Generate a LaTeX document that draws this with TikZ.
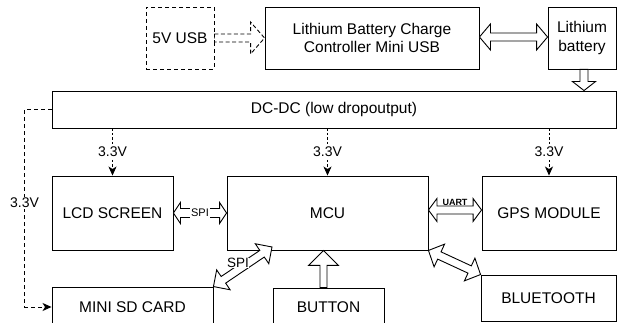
\documentclass[tikz,border=0pt]{standalone}
\usepackage{fontspec}
\setmainfont{Liberation Sans}
\usetikzlibrary{calc,arrows.meta}
% double-headed hollow arrow: [opts]{shaft half width}{head half width}{head length}{A}{B}
\newcommand\dflex[6][]{%
 \draw[flex,#1] (#5) -- ($(#5)!#4!(#6)!#3!90:(#6)$) -- ($(#5)!#4!(#6)!#2!90:(#6)$)
  -- ($(#6)!#4!(#5)!#2!-90:(#5)$) -- ($(#6)!#4!(#5)!#3!-90:(#5)$) -- (#6)
  -- ($(#6)!#4!(#5)!#3!90:(#5)$) -- ($(#6)!#4!(#5)!#2!90:(#5)$)
  -- ($(#5)!#4!(#6)!#2!-90:(#6)$) -- ($(#5)!#4!(#6)!#3!-90:(#6)$) -- cycle;}
% single-headed hollow arrow (head at B)
\newcommand\sflex[6][]{%
 \draw[flex,#1] ($(#5)!#2!90:(#6)$) -- ($(#6)!#4!(#5)!#2!-90:(#5)$)
  -- ($(#6)!#4!(#5)!#3!-90:(#5)$) -- (#6) -- ($(#6)!#4!(#5)!#3!90:(#5)$)
  -- ($(#6)!#4!(#5)!#2!90:(#5)$) -- ($(#5)!#2!-90:(#6)$) -- cycle;}
\begin{document}
\begin{tikzpicture}[x=1pt,y=-1pt,
  box/.style={draw=black, line width=0.9pt, inner sep=0pt, align=center,
    font=\fontsize{15.5}{18.5}\selectfont},
  flex/.style={draw=black, fill=white, line width=0.9pt, line join=miter},
  vdash/.style={draw=black, line width=0.8pt, dash pattern=on 2.5pt off 2pt,
    -{Stealth[length=9pt,width=8pt,inset=2.5pt]}},
  ldash/.style={draw=black, line width=0.9pt, dash pattern=on 4pt off 3pt,
    -{Stealth[length=9pt,width=8pt,inset=2.5pt]}},
  lbl/.style={fill=white, inner sep=1pt, font=\fontsize{14}{16}\selectfont},
  spilbl/.style={fill=white, inner sep=1pt, font=\fontsize{11}{13}\selectfont},
]
\useasboundingbox (0,0) rectangle (622,323);
\clip (0,0) rectangle (622,323);
% boxes
\node[box, dashed, dash pattern=on 4pt off 3pt, minimum width=68pt, minimum height=62pt] (usb) at (180,38) {5V USB};
\node[box, minimum width=214pt, minimum height=62pt] (ctrl) at (372,38) {Lithium Battery Charge\\Controller Mini USB};
\node[box, minimum width=68pt, minimum height=62pt] (bat) at (582,38) {Lithium\\battery};
\node[box, minimum width=564pt, minimum height=37pt] (dcdc) at (334,109.5) {DC-DC (low dropoutput)};
\node[box, minimum width=121pt, minimum height=74pt] (lcd) at (112.5,213) {LCD SCREEN};
\node[box, minimum width=201pt, minimum height=74pt] (mcu) at (327.5,213) {MCU};
\node[box, minimum width=134pt, minimum height=74pt] (gps) at (549,213) {GPS MODULE};
\node[box, minimum width=161pt, minimum height=40pt] (sd) at (132.5,307) {MINI SD CARD};
\node[box, minimum width=111pt, minimum height=38pt] (btn) at (328.5,307) {BUTTON};
\node[box, minimum width=135pt, minimum height=46pt] (bt) at (548.5,298) {BLUETOOTH};
% power connectors
\draw[vdash] (dcdc.south -| lcd.north) -- node[lbl]{3.3V} (lcd.north);
\draw[vdash] (dcdc.south -| mcu.north) -- node[lbl]{3.3V} (mcu.north);
\draw[vdash] (dcdc.south -| gps.north) -- node[lbl]{3.3V} (gps.north);
\draw[ldash] (dcdc.west) -- ++(-27,0) |- node[lbl, pos=0.237]{3.3V} (sd.west);
% hollow arrows
\coordinate (ctrlE) at ($(ctrl.east)+(0,-1)$);
\coordinate (batW) at ($(bat.west)+(0,-1)$);
\coordinate (batS) at ($(bat.south)+(2,0)$);
\coordinate (dcN) at (batS |- dcdc.north);
\coordinate (uartA) at ($(mcu.east)+(0,-3)$);
\coordinate (uartB) at ($(gps.west)+(0,-3)$);
\coordinate (spiA) at (272,247);
\coordinate (spiB) at (sd.north east);
\coordinate (btnN) at ($(btn.north)+(-5,0)$);
\coordinate (mcuS) at (btnN |- mcu.south);
\sflex[dashed, dash pattern=on 4pt off 2.5pt]{4pt}{16pt}{14pt}{usb.east}{ctrl.west}
\dflex{4pt}{13pt}{11pt}{ctrlE}{batW}
\sflex{4pt}{11.5pt}{9pt}{batS}{dcN}
\dflex{4.5pt}{10.5pt}{7pt}{lcd.east}{mcu.west}
\node[spilbl] (spi1) at ($(lcd.east)!0.5!(mcu.west)$) {SPI};
\dflex{4pt}{11.5pt}{8.5pt}{uartA}{uartB}
\node[anchor=south, inner sep=0pt, font=\fontsize{9}{11}\selectfont\bfseries] (uart) at ($(uartA)!0.5!(uartB)+(0,-4.5)$) {UART};
\dflex{4pt}{12pt}{12pt}{spiA}{spiB}
\node[fill=white, inner sep=0.5pt, font=\fontsize{13.5}{15}\selectfont] (spi2) at (238,263) {SPI};
\dflex{4pt}{12.5pt}{12pt}{mcu.south east}{bt.north west}
\sflex{3.5pt}{15pt}{15pt}{btnN}{mcuS}
\end{tikzpicture}
\end{document}
